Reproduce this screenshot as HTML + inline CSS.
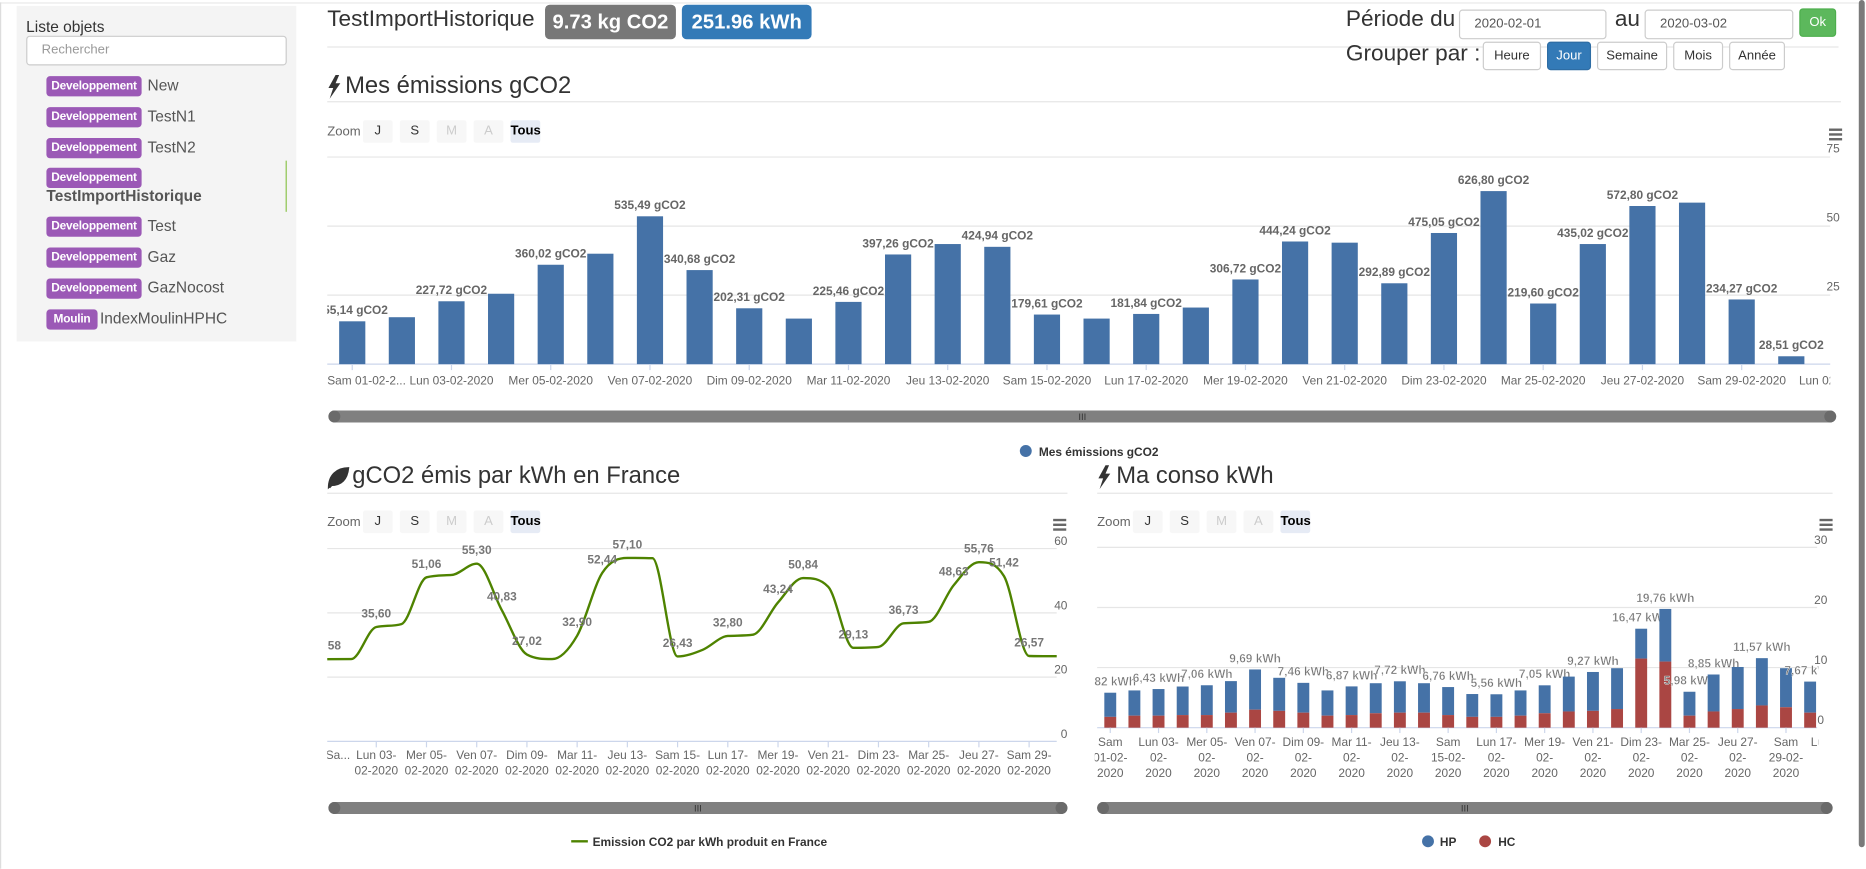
<!DOCTYPE html>
<html><head><meta charset="utf-8">
<style>
html,body{margin:0;padding:0;width:1866px;height:869px;overflow:hidden;background:#fff;font-family:"Liberation Sans",sans-serif;}
#wrap{position:absolute;left:0;top:0;width:1568px;height:730px;transform:scale(1.19);transform-origin:0 0;}
.abs{position:absolute;}
.badge{position:absolute;background:#9b59b6;color:#fff;font-weight:bold;font-size:10px;height:17px;line-height:17px;border-radius:3px;width:80px;text-align:center;letter-spacing:-0.2px;overflow:hidden;white-space:nowrap;}
.name{position:absolute;font-size:13px;color:#555;}
.btn{position:absolute;border:1px solid #ccc;border-radius:3px;background:#fff;font-size:11px;color:#333;text-align:center;box-sizing:border-box;}
.zb{position:absolute;height:19px;width:25px;background:#f7f7f7;font-size:11px;line-height:19px;text-align:center;color:#333;border-radius:2px;}
.h2{position:absolute;font-size:20px;color:#333;white-space:nowrap;}
.hr{position:absolute;height:1px;background:#e5e5e5;}
.inp{position:absolute;border:1px solid #ccc;border-radius:3px;background:#fff;font-size:11px;color:#555;box-sizing:border-box;padding-left:12px;line-height:23px;}
</style></head><body>
<div id="wrap">
<div class="abs" style="left:0;top:2px;width:1562px;height:1px;background:#e8e8e8"></div>
<div class="abs" style="left:0;top:2px;width:1px;height:728px;background:#ddd"></div>
<div class="abs" style="left:1562px;top:0;width:5px;height:712px;background:#7a7a7a;border-radius:3px"></div>

<div class="abs" style="left:14px;top:5px;width:235px;height:282px;background:#f4f4f4">
 <div class="abs" style="left:8px;top:10px;font-size:13px;color:#333">Liste objets</div>
 <div class="inp" style="left:8px;top:25px;width:219px;height:25px;color:#999">Rechercher</div>
</div>
<div class="badge" style="left:39px;top:64px">Developpement</div><div class="name" style="left:124px;top:64px">New</div>
<div class="badge" style="left:39px;top:90px">Developpement</div><div class="name" style="left:124px;top:90px">TestN1</div>
<div class="badge" style="left:39px;top:116px">Developpement</div><div class="name" style="left:124px;top:116px">TestN2</div>
<div class="badge" style="left:39px;top:141px">Developpement</div><div class="name" style="left:39px;top:157px;font-weight:bold">TestImportHistorique</div>
<div class="abs" style="left:240px;top:135px;width:1px;height:43px;background:#8bc34a"></div>
<div class="badge" style="left:39px;top:182px">Developpement</div><div class="name" style="left:124px;top:182px">Test</div>
<div class="badge" style="left:39px;top:208px">Developpement</div><div class="name" style="left:124px;top:208px">Gaz</div>
<div class="badge" style="left:39px;top:234px">Developpement</div><div class="name" style="left:124px;top:234px">GazNocost</div>
<div class="badge" style="left:39px;top:260px;width:43px">Moulin</div><div class="name" style="left:84px;top:260px">IndexMoulinHPHC</div>

<div class="h2" style="left:275px;top:6px;font-size:19px">TestImportHistorique</div>
<div class="abs" style="left:458px;top:4px;width:110px;height:29px;background:#777;border-radius:4px;color:#fff;font-weight:bold;font-size:17px;line-height:29px;text-align:center">9.73 kg CO2</div>
<div class="abs" style="left:573px;top:4px;width:109px;height:29px;background:#337ab7;border-radius:4px;color:#fff;font-weight:bold;font-size:17px;line-height:29px;text-align:center">251.96 kWh</div>
<div class="hr" style="left:275px;top:39px;width:1270px"></div>

<div class="h2" style="left:1131px;top:6px;font-size:19px">Période du</div>
<div class="inp" style="left:1226px;top:8px;width:124px;height:25px">2020-02-01</div>
<div class="h2" style="left:1357px;top:6px;font-size:19px">au</div>
<div class="inp" style="left:1382px;top:8px;width:125px;height:25px">2020-03-02</div>
<div class="btn" style="left:1512px;top:7px;width:31px;height:24px;line-height:22px;background:#5cb85c;border-color:#4cae4c;color:#fff">Ok</div>
<div class="h2" style="left:1131px;top:35px;font-size:19px">Grouper par :</div>
<div class="btn" style="left:1246px;top:35px;width:49px;height:24px;line-height:22px">Heure</div>
<div class="btn" style="left:1300px;top:35px;width:37px;height:24px;line-height:22px;background:#337ab7;border-color:#2e6da4;color:#fff">Jour</div>
<div class="btn" style="left:1342px;top:35px;width:59px;height:24px;line-height:22px">Semaine</div>
<div class="btn" style="left:1406px;top:35px;width:42px;height:24px;line-height:22px">Mois</div>
<div class="btn" style="left:1453px;top:35px;width:47px;height:24px;line-height:22px">Année</div>

<div class="h2" style="left:290px;top:61px">Mes émissions gCO2</div>
<div class="hr" style="left:275px;top:85px;width:1272px"></div>
<div class="h2" style="left:296px;top:389px">gCO2 émis par kWh en France</div>
<div class="hr" style="left:275px;top:414px;width:622px"></div>
<div class="h2" style="left:938px;top:389px">Ma conso kWh</div>
<div class="hr" style="left:922px;top:414px;width:618px"></div>

<div id="zooms"></div>
<svg id="svg" class="abs" style="left:0;top:0" width="1568" height="730">
 <defs>
  <clipPath id="clipTop"><rect x="275" y="120" width="1263" height="215"/></clipPath>
  <clipPath id="clipLeft"><rect x="275" y="440" width="613" height="225"/></clipPath>
  <clipPath id="clipRight"><rect x="920" y="440" width="608" height="225"/></clipPath>
 </defs>
 <polygon points="282,63 276,74 280,74 277,83 286,70 282,70 285,63" fill="#333"/>
 <polygon points="929,391 923,402 927,402 924,411 933,398 929,398 932,391" fill="#333"/>
 <path d="M276,410 C276,399 283,393 293,393 C292,403 287,408 278,408 Z M277,410 L290,396" fill="#333" stroke="#333" stroke-width="1"/>
 <g id="gTop"></g><g id="gLeft"></g><g id="gRight"></g>
</svg>
</div>
<script>
// ---- Top chart data ----
const topCategories = ["Sam 01-02-2020","Dim 02-02-2020","Lun 03-02-2020","Mar 04-02-2020","Mer 05-02-2020","Jeu 06-02-2020","Ven 07-02-2020","Sam 08-02-2020","Dim 09-02-2020","Lun 10-02-2020","Mar 11-02-2020","Mer 12-02-2020","Jeu 13-02-2020","Ven 14-02-2020","Sam 15-02-2020","Dim 16-02-2020","Lun 17-02-2020","Mar 18-02-2020","Mer 19-02-2020","Jeu 20-02-2020","Ven 21-02-2020","Sam 22-02-2020","Dim 23-02-2020","Lun 24-02-2020","Mar 25-02-2020","Mer 26-02-2020","Jeu 27-02-2020","Ven 28-02-2020","Sam 29-02-2020","Dim 01-03-2020","Lun 02-03-2020"];
const topValues = [155.14,170,227.72,255,360.02,400,535.49,340.68,202.31,165,225.46,397.26,435,424.94,179.61,165,181.84,205,306.72,444.24,440,292.89,475.05,626.80,219.60,435.02,572.80,585,234.27,28.51,0];
const topShowLabel = [1,0,1,0,1,0,1,1,1,0,1,1,0,1,1,0,1,0,1,1,0,1,1,1,1,1,1,0,1,1,0];
const topTicks = [0,250,500,750];
const topTickLabels = ["","25","50","75"];
// ---- Left chart data ----
const franceValues = [25.58,25.6,35.60,36.5,51.06,51.8,55.30,40.83,27.02,25.6,32.90,52.44,57.10,57.0,26.43,28.5,32.80,33.2,43.24,50.84,48.1,29.13,29.4,36.73,37.2,48.63,55.76,51.42,26.57,26.5,26.5];
const franceShowLabel = [1,0,1,0,1,0,1,1,1,0,1,1,1,0,1,0,1,0,1,1,0,1,0,1,0,1,1,1,1,0,0];
const franceTicks = [0,20,40,60];
const franceTickLabels = ["0","20","40","60"];
// ---- Right chart data ----
const consoHC = [1.8,2.0,2.0,2.1,2.1,2.5,3.0,2.8,2.5,2.0,2.1,2.4,2.5,2.5,2.1,1.8,1.8,2.0,2.4,2.7,2.8,3.1,11.5,11.0,2.0,2.7,3.1,3.7,3.4,2.5];
const consoTotal = [5.82,6.2,6.43,6.85,7.06,7.75,9.69,8.3,7.46,6.2,6.87,7.4,7.72,7.4,6.76,5.6,5.56,6.2,7.05,8.5,9.27,9.9,16.47,19.76,5.98,8.85,10.1,11.57,9.9,7.67];
const consoShowLabel = [1,0,1,0,1,0,1,0,1,0,1,0,1,0,1,0,1,0,1,0,1,0,1,1,1,1,0,1,0,1];
const consoTicks = [0,10,20,30];
const consoTickLabels = ["0","10","20","30"];

const NS="http://www.w3.org/2000/svg";
function mk(parent,tag,attrs,text){const e=document.createElementNS(NS,tag);for(const k in attrs)e.setAttribute(k,attrs[k]);if(text!==undefined)e.textContent=text;parent.appendChild(e);return e;}
const fmt=v=>v.toFixed(2).replace('.',',');
const dayAbbr=c=>c.split(' ')[0];
const datePart=c=>c.split(' ')[1];

// axis functions
const xTop=i=>296+i*41.7, yTop=v=>306-v*58/250;
const xL=i=>274+i*21.1, yL=v=>623-v*162/60;
const xR=i=>933+i*20.28, yR=v=>611.5-v*151.5/30;

function zoomRow(x,y,pre){
  const wrap=document.getElementById('zooms');
  const z=document.createElement('div');z.className='abs';z.style.cssText=`left:${x}px;top:${y}px;font-size:11px;color:#666`;z.textContent='Zoom';
  
  
  wrap.appendChild(z);
  ['J','S','M','A','Tous'].forEach((t,k)=>{const b=document.createElement('div');b.className='zb';b.style.left=(x+30+k*31)+'px';b.style.top=(y-4)+'px';b.textContent=t;
    if(t==='M'||t==='A')b.style.color='#ccc';
    if(t==='Tous'){b.style.background='#e6ebf5';b.style.fontWeight='bold';b.style.color='#000';}
    
    
    wrap.appendChild(b);});
}
zoomRow(275,105,'emissions');zoomRow(275,433,'france');zoomRow(922,433,'conso');

function hamburger(g,x,y,name){const h=mk(g,'g',{});
  for(let k=0;k<3;k++)mk(h,'rect',{x:x,y:y+k*4,width:11,height:2,fill:'#666'});}
function scrollbar(g,x1,x2,y,name){const s=mk(g,'g',{});
  mk(s,'rect',{x:x1,y:y,width:x2-x1,height:10,rx:5,fill:'#808080'});
  mk(s,'circle',{cx:x1+5,cy:y+5,r:5,fill:'#6a6a6a'});mk(s,'circle',{cx:x2-5,cy:y+5,r:5,fill:'#6a6a6a'});
  mk(s,'text',{x:(x1+x2)/2,y:y+8,'text-anchor':'middle','font-size':'8',fill:'#333'},'III');}

// ---- Top chart ----
const gT=document.getElementById('gTop');
topTicks.forEach((t,k)=>{const l=mk(gT,'line',{x1:275,x2:1538,y1:yTop(t),y2:yTop(t),stroke:k===0?'#ccd6eb':'#e6e6e6'});
  
  const tx=mk(gT,'text',{x:1546,y:yTop(t)-4,'text-anchor':'end','font-size':'10',fill:'#666'},topTickLabels[k]);
  });
hamburger(gT,1537,108,'emissions-menu');
const cT=mk(gT,'g',{'clip-path':'url(#clipTop)'});
topValues.forEach((v,i)=>{
  const r=mk(cT,'rect',{x:xTop(i)-11,y:yTop(v),width:22,height:yTop(0)-yTop(v),fill:'#4572a7'});
  
  if(topShowLabel[i]){const t=mk(cT,'text',{x:xTop(i),y:yTop(v)-6,'text-anchor':'middle','font-size':'10','font-weight':'bold',fill:'#666'},fmt(v)+' gCO2');
    }
  if(i%2===0){mk(cT,'line',{x1:xTop(i),x2:xTop(i),y1:306,y2:311,stroke:'#ccd6eb'});
    let lab=topCategories[i]; if(i===0)lab='Sam 01-02-2...';
    const t=mk(cT,'text',{x:i===0?275:xTop(i),y:323,'text-anchor':i===0?'start':'middle','font-size':'10',fill:'#666'},lab);
    }
});
scrollbar(gT,276,1543,345,'emissions-scrollbar');
const lgT=mk(gT,'g',{});
mk(lgT,'circle',{cx:862,cy:379,r:5,fill:'#4572a7'});
mk(lgT,'text',{x:873,y:383,'font-size':'10','font-weight':'bold',fill:'#333'},'Mes émissions gCO2');

// ---- Left chart ----
const gL=document.getElementById('gLeft');
franceTicks.forEach((t,k)=>{const l=mk(gL,'line',{x1:275,x2:888,y1:yL(t),y2:yL(t),stroke:k===0?'#ccd6eb':'#e6e6e6'});
  
  const tx=mk(gL,'text',{x:897,y:yL(t)-3,'text-anchor':'end','font-size':'10',fill:'#666'},franceTickLabels[k]);
  });
hamburger(gL,885,436,'france-menu');
const cL=mk(gL,'g',{'clip-path':'url(#clipLeft)'});
(function(){
  const n=franceValues.length, xs=[],ys=[];
  for(let i=0;i<n;i++){xs.push(xL(i));ys.push(yL(franceValues[i]));}
  const d=[],m=[];for(let i=0;i<n-1;i++)d.push((ys[i+1]-ys[i])/(xs[i+1]-xs[i]));
  m[0]=d[0];m[n-1]=d[n-2];
  for(let i=1;i<n-1;i++){m[i]=(d[i-1]*d[i]<=0)?0:(d[i-1]+d[i])/2;}
  for(let i=0;i<n-1;i++){if(d[i]===0){m[i]=0;m[i+1]=0;continue;}const a=m[i]/d[i],b=m[i+1]/d[i],s=a*a+b*b;if(s>9){const t=3/Math.sqrt(s);m[i]=t*a*d[i];m[i+1]=t*b*d[i];}}
  let p='M'+xs[0]+','+ys[0];
  for(let i=0;i<n-1;i++){const h=(xs[i+1]-xs[i])/3;p+=` C${xs[i]+h},${ys[i]+m[i]*h} ${xs[i+1]-h},${ys[i+1]-m[i+1]*h} ${xs[i+1]},${ys[i+1]}`;}
  const path=mk(cL,'path',{d:p,fill:'none',stroke:'#4e8300','stroke-width':2});
  
})();
franceValues.forEach((v,i)=>{
  if(franceShowLabel[i]){const t=mk(cL,'text',{x:xL(i),y:yL(v)-8,'text-anchor':'middle','font-size':'10','font-weight':'bold',fill:'#777'},fmt(v));
    }
});
topCategories.forEach((c,i)=>{if(i%2===0&&i<=28){
  mk(cL,'line',{x1:xL(i),x2:xL(i),y1:623,y2:628,stroke:'#ccd6eb'});
  const dp=datePart(c).split('-');
  const l1=i===0?'Sa...':dayAbbr(c)+' '+dp[0]+'-', l2=i===0?'':dp[1]+'-'+dp[2];
  const t=mk(cL,'text',{x:i===0?xL(i)+10:xL(i),y:638,'text-anchor':'middle','font-size':'10',fill:'#666'},l1);
  
  if(l2){const t2=mk(cL,'text',{x:xL(i),y:651,'text-anchor':'middle','font-size':'10',fill:'#666'},l2);
  }
}});
scrollbar(gL,276,897,674,'france-scrollbar');
const lgL=mk(gL,'g',{});
mk(lgL,'line',{x1:480,x2:494,y1:707,y2:707,stroke:'#4e8300','stroke-width':2});
mk(lgL,'text',{x:498,y:711,'font-size':'10','font-weight':'bold',fill:'#333'},'Emission CO2 par kWh produit en France');

// ---- Right chart ----
const gR=document.getElementById('gRight');
consoTicks.forEach((t,k)=>{const l=mk(gR,'line',{x1:922,x2:1527,y1:yR(t),y2:yR(t),stroke:k===0?'#ccd6eb':'#e6e6e6'});
  
  const tx=mk(gR,'text',{x:1530,y:yR(t)-3,'text-anchor':'middle','font-size':'10',fill:'#666'},consoTickLabels[k]);
  });
hamburger(gR,1529,436,'conso-menu');
const cR=mk(gR,'g',{'clip-path':'url(#clipRight)'});
consoTotal.forEach((tot,i)=>{
  const hc=consoHC[i], hp=tot-hc;
  const r1=mk(cR,'rect',{x:xR(i)-5,y:yR(hc+hp),width:10,height:yR(hc)-yR(hc+hp),fill:'#4572a7'});
  
  const r2=mk(cR,'rect',{x:xR(i)-5,y:yR(hc),width:10,height:yR(0)-yR(hc),fill:'#aa4643'});
  
  if(consoShowLabel[i]){const t=mk(cR,'text',{x:xR(i),y:yR(tot)-6,'text-anchor':'middle','font-size':'10','font-weight':'bold',fill:'#777',stroke:'#fff','stroke-width':'0.3'},fmt(tot)+' kWh');
    }
});
topCategories.forEach((c,i)=>{if(i%2===0){
  mk(cR,'line',{x1:xR(i),x2:xR(i),y1:611.5,y2:616,stroke:'#ccd6eb'});
  const dp=datePart(c).split('-'), d=dayAbbr(c);
  let lines;
  if(i===30)lines=['Lu...'];
  else if(d==='Sam')lines=[d,dp[0]+'-'+dp[1]+'-',dp[2]];
  else lines=[d+' '+dp[0]+'-',dp[1]+'-',dp[2]];
  lines.forEach((s,k)=>{const t=mk(cR,'text',{x:i===30?xR(i)-10:xR(i),y:627+k*13,'text-anchor':'middle','font-size':'10',fill:'#666'},s);
    });
}});
scrollbar(gR,922,1540,674,'conso-scrollbar');
const lgR=mk(gR,'g',{});
mk(lgR,'circle',{cx:1200,cy:707,r:5,fill:'#4572a7'});
mk(lgR,'text',{x:1210,y:711,'font-size':'10','font-weight':'bold',fill:'#333'},'HP');
mk(lgR,'circle',{cx:1248,cy:707,r:5,fill:'#aa4643'});
mk(lgR,'text',{x:1259,y:711,'font-size':'10','font-weight':'bold',fill:'#333'},'HC');
</script>
</body></html>
